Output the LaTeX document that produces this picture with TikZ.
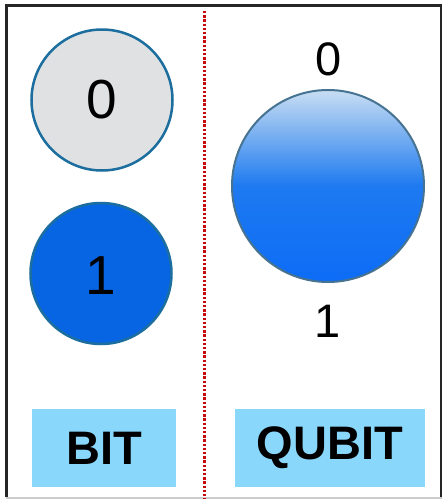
\documentclass[tikz,border=0pt]{standalone}
\usepackage{fontspec}
\setmainfont{Liberation Sans}
\definecolor{circstroke}{RGB}{28,110,158}
\definecolor{zerofill}{RGB}{224,225,227}
\definecolor{onefill}{RGB}{7,101,227}
\definecolor{labelfill}{RGB}{137,216,252}
\definecolor{divred}{RGB}{200,10,10}
\definecolor{qtop}{RGB}{200,222,242}
\definecolor{qmid}{RGB}{30,122,240}
\definecolor{qbot}{RGB}{12,108,246}
\definecolor{qstroke}{RGB}{70,115,145}
\begin{document}
\begin{tikzpicture}[x=1pt,y=-1pt,
  bitcirc/.style={circle,draw=circstroke,line width=2.5pt,minimum size=141pt,inner sep=0pt},
  digit/.style={inner sep=0pt,font=\fontsize{55}{55}\selectfont},
  qdigit/.style={inner sep=0pt,font=\fontsize{47}{47}\selectfont},
  labelbox/.style={fill=labelfill,inner sep=0pt,font=\fontsize{47}{47}\selectfont\bfseries}]
\useasboundingbox (0,0) rectangle (444,499);
\fill[white] (0,0) rectangle (444,499);
% frame
\draw[line width=3pt,black!85] (6,497) -- (6,5) -- (442,5);
\draw[line width=2pt,black!85] (441,5) -- (441,497);
\draw[line width=1.5pt,black!20] (6,498) -- (442,498);
% divider
\coordinate (dtop) at (204.5,11);
\coordinate (dbot) at (204.5,499);
\draw[divred,line width=2.6pt,dash pattern=on 2.4pt off 1.8pt] (dtop) -- (dbot);
% bit circles
\node[bitcirc,fill=zerofill] (c0) at (102,100) {};
\node[digit] (t0) at (102,100) {0};
\node[bitcirc,fill=onefill] (c1) at (101,273.5) {};
\node[digit] (t1) at (101,276) {1};
% qubit sphere
\shade[top color=qtop,bottom color=qbot,middle color=qmid,draw=qstroke,line width=2pt] (328,186) circle (96);
\node[qdigit] (q0) at (329,59) {0};
\node[qdigit] (q1) at (328,321) {1};
% labels
\node[labelbox,minimum width=144pt,minimum height=78pt] (bit) at (104,448) {BIT};
\node[labelbox,minimum width=190pt,minimum height=78pt] (qubit) at (330,448) {QUBIT};
\end{tikzpicture}
\end{document}
